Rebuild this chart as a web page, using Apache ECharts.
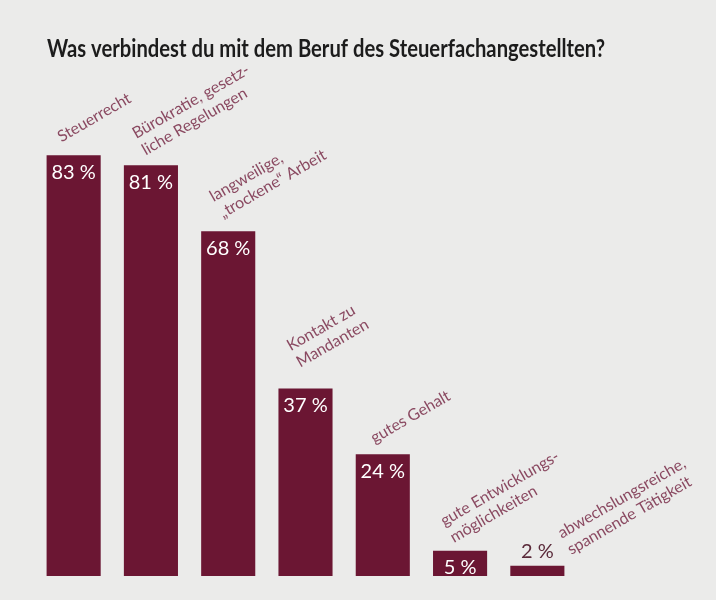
<!DOCTYPE html>
<html><head><meta charset="utf-8">
<script src="https://cdn.jsdelivr.net/npm/echarts@6/dist/echarts.min.js"></script>
<style>html,body{margin:0;padding:0;background:#ebebea;}#c{width:716px;height:600px;}</style>
</head><body><div id="c"></div>
<script>
const categories = [
  "Steuerrecht",
  "Bürokratie, gesetz-\nliche Regelungen",
  "langweilige,\n„trockene“ Arbeit",
  "Kontakt zu\nMandanten",
  "gutes Gehalt",
  "gute Entwicklungs-\nmöglichkeiten",
  "abwechslungsreiche,\nspannende Tätigkeit"
];
const values = [83, 81, 68, 37, 24, 5, 2];
const titleText = "Was verbindest du mit dem Beruf des Steuerfachangestellten?";

// label placement (layout only)
const labelOffsets = [[-10,-9],[-3,-6],[-3,-9],[-3,-17],[-6,-7],[-4,-4],[36,-7]];
const MAROON = "#6b1633";
const LABEL = "#72203f";
const FONT = "Lato,'Noto Sans',sans-serif";
const TITLE_FONT = "bold 24px Lato";

// fit title to reference width
const cv = document.createElement('canvas').getContext('2d');
cv.font = TITLE_FONT;
const titleW = cv.measureText(titleText).width;
const titleScale = 558 / titleW;

const chart = echarts.init(document.getElementById('c'));
chart.setOption({
  backgroundColor: "#ebebea",
  animation: false,
  graphic: [{
    type: 'text', x: 47, y: 37, scaleX: titleScale,
    style: {text: titleText, font: TITLE_FONT, fill: '#1c1c1c', textVerticalAlign: 'top'}
  }],
  grid: {left: 35, right: 140, top: 69, bottom: 24},
  xAxis: {type: 'category', data: categories, show: false},
  yAxis: {type: 'value', min: 0, max: 100, show: false},
  series: [
    {
      type: 'bar', barCategoryGap: '30%',
      itemStyle: {color: MAROON},
      data: values.map((v, i) => ({
        value: v,
        label: v < 4 ? {position: 'top', color: '#5a2a3a', distance: 4} : {}
      })),
      label: {
        show: true, position: 'insideTop', distance: 7,
        formatter: p => p.value + ' %',
        color: '#ffffff', fontFamily: FONT, fontSize: 20
      }
    },
    {
      type: 'scatter', symbolSize: 0, silent: true,
      data: values.map((v, i) => ({
        value: [i, v],
        label: {position: labelOffsets[i]}
      })),
      label: {
        show: true, rotate: 30, align: 'left', verticalAlign: 'bottom',
        formatter: p => categories[p.dataIndex],
        color: LABEL, fontFamily: FONT, fontSize: 16, lineHeight: 19
      }
    }
  ]
});
</script></body></html>
